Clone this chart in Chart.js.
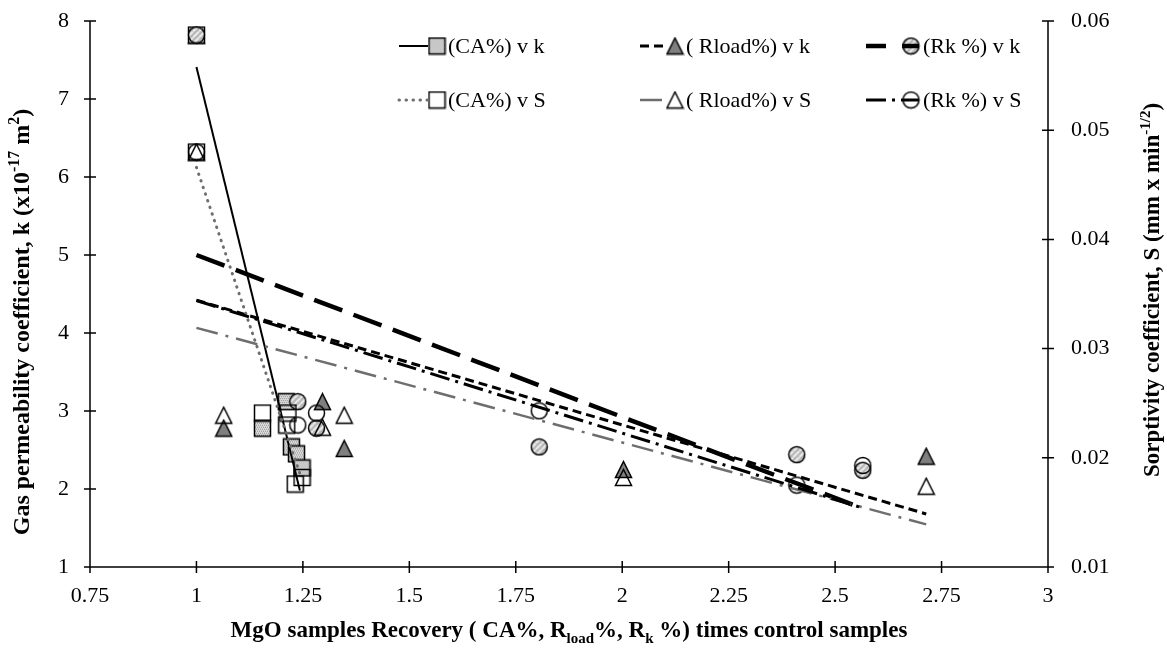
<!DOCTYPE html>
<html>
<head>
<meta charset="utf-8">
<script src="https://cdn.jsdelivr.net/npm/chart.js@4.4.1/dist/chart.umd.min.js"></script>
<style>
  html, body { margin: 0; padding: 0; background: #fff; }
  #wrap { position: relative; width: 1167px; height: 650px; }
</style>
</head>
<body>
<div id="wrap"><canvas id="chart"></canvas></div>
<script>
// recovery ratio (x control) and measured k / S for each group of mixes
const caKX = [1, 1.155, 1.211, 1.223, 1.235, 1.248];
const caK = [7.82, 2.78, 3.12, 2.54, 2.45, 2.27];
const caSX = [1, 1.155, 1.215, 1.212, 1.248, 1.232];
const caS = [0.048, 0.0241, 0.0241, 0.023, 0.0182, 0.0176];

const rloadX = [1, 1.064, 1.296, 1.347, 2.003, 2.714];
const rloadK = [7.82, 2.78, 3.12, 2.52, 2.25, 2.42];
const rloadS = [0.048, 0.0239, 0.0228, 0.0239, 0.0182, 0.0174];

const rkX = [1, 1.238, 1.282, 1.805, 2.41, 2.565];
const rkK = [7.82, 3.12, 2.78, 2.54, 2.44, 2.24];
const rkS = [0.048, 0.023, 0.0241, 0.0243, 0.0175, 0.0193];

// linear trend lines (start / end)
const trendCaKX = [1, 1.243];
const trendCaK = [7.41, 1.98];
const trendRloadKX = [1, 2.714];
const trendRloadK = [4.42, 1.68];
const trendRkKX = [1, 2.565];
const trendRkK = [5.0, 1.75];
const trendCaSX = [1, 1.245];
const trendCaS = [0.0466, 0.0183];
const trendRloadSX = [1, 2.714];
const trendRloadS = [0.0319, 0.0139];
const trendRkSX = [1, 2.565];
const trendRkS = [0.0344, 0.0154];

const xTicks = { min: 0.75, max: 3, step: 0.25 };
const kTicks = { min: 1, max: 8, step: 1 };
const sTicks = { min: 0.01, max: 0.06, step: 0.01 };

const legendLabels = ["(CA%) v k", "( Rload%) v k", "(Rk %) v k", "(CA%) v S", "( Rload%) v S", "(Rk %) v S"];

const FONT = '"Liberation Serif", "Times New Roman", serif';

const pts = (xs, ys) => xs.map((x, i) => ({ x: x, y: ys[i] }));

// fill textures for the markers
function stippleTile() {
  const c = document.createElement("canvas");
  c.width = c.height = 4;
  const g = c.getContext("2d");
  g.fillStyle = "#dcdcdc";
  g.fillRect(0, 0, 4, 4);
  g.fillStyle = "#8a8a8a";
  [[0, 0], [2, 0], [1, 2], [3, 2]].forEach(([x, y]) => g.fillRect(x, y, 1, 1));
  return c;
}

function stripeTile() {
  const c = document.createElement("canvas");
  c.width = c.height = 6;
  const g = c.getContext("2d");
  g.fillStyle = "#b4b4b4";
  g.fillRect(0, 0, 6, 6);
  g.strokeStyle = "#eeeeee";
  g.lineWidth = 2;
  [-6, 0, 6].forEach((o) => {
    g.beginPath();
    g.moveTo(o, 6);
    g.lineTo(o + 6, 0);
    g.stroke();
  });
  return c;
}

function marker(shape, fill) {
  const c = document.createElement("canvas");
  c.width = c.height = 19;
  const g = c.getContext("2d");
  g.beginPath();
  if (shape === "square") g.rect(1.5, 1.5, 16, 16);
  else if (shape === "triangle") {
    g.moveTo(9.5, 1.5);
    g.lineTo(17.5, 17.5);
    g.lineTo(1.5, 17.5);
    g.closePath();
  } else g.arc(9.5, 9.5, 8, 0, Math.PI * 2);
  if (fill === "stipple") g.fillStyle = g.createPattern(stippleTile(), "repeat");
  else if (fill === "stripe") g.fillStyle = g.createPattern(stripeTile(), "repeat");
  else g.fillStyle = fill;
  if (fill) g.fill();
  g.lineWidth = 1.5;
  g.strokeStyle = "#000";
  g.stroke();
  return c;
}

const mk = {
  caK: marker("square", "stipple"),
  rloadK: marker("triangle", "#7f7f7f"),
  rkK: marker("circle", "stripe"),
  caS: marker("square", null),
  rloadS: marker("triangle", null),
  rkS: marker("circle", null),
};

const markerSet = (label, data, img, axis, order) => ({
  label: label,
  data: data,
  yAxisID: axis,
  showLine: false,
  pointStyle: img,
  pointRadius: 9,
  order: order,
});

const trendSet = (data, axis, color, width, dash, order, cap) => ({
  data: data,
  yAxisID: axis,
  showLine: true,
  pointRadius: 0,
  borderColor: color,
  borderWidth: width,
  borderDash: dash,
  borderCapStyle: cap || "butt",
  fill: false,
  order: order,
});

const trends = [
  trendSet(pts(trendCaKX, trendCaK), "y", "#000", 2, [], 5),
  trendSet(pts(trendRloadKX, trendRloadK), "y", "#000", 3, [9, 5], 4),
  trendSet(pts(trendRkKX, trendRkK), "y", "#000", 4.5, [30, 12], 3),
  trendSet(pts(trendCaSX, trendCaS), "y2", "#6e6e6e", 3, [0.5, 6.5], 2, "round"),
  trendSet(pts(trendRloadSX, trendRloadS), "y2", "#6e6e6e", 2.5, [22, 8, 3, 8], 1),
  trendSet(pts(trendRkSX, trendRkS), "y2", "#000", 3, [20, 6, 3, 6], 0),
];

const markerSets = [
  markerSet(legendLabels[0], pts(caKX, caK), mk.caK, "y", 19),
  markerSet(legendLabels[1], pts(rloadX, rloadK), mk.rloadK, "y", 20),
  markerSet(legendLabels[2], pts(rkX, rkK), mk.rkK, "y", 18),
  markerSet(legendLabels[3], pts(caSX, caS), mk.caS, "y2", 17),
  markerSet(legendLabels[4], pts(rloadX, rloadS), mk.rloadS, "y2", 16),
  markerSet(legendLabels[5], pts(rkX, rkS), mk.rkS, "y2", 15),
];

// axis lines with ticks crossing the axis
const axisPlugin = {
  id: "axisLines",
  beforeDatasetsDraw(chart) {
    const { ctx, chartArea: a, scales } = chart;
    ctx.save();
    ctx.strokeStyle = "#000";
    ctx.lineWidth = 1.5;
    ctx.beginPath();
    ctx.moveTo(a.left, a.top);
    ctx.lineTo(a.left, a.bottom);
    ctx.lineTo(a.right, a.bottom);
    ctx.moveTo(a.right, a.top);
    ctx.lineTo(a.right, a.bottom);
    scales.x.ticks.forEach((t) => {
      const p = scales.x.getPixelForValue(t.value);
      ctx.moveTo(p, a.bottom - 6);
      ctx.lineTo(p, a.bottom + 6);
    });
    [["y", a.left], ["y2", a.right]].forEach(([id, edge]) => {
      scales[id].ticks.forEach((t) => {
        const p = scales[id].getPixelForValue(t.value);
        ctx.moveTo(edge - 6, p);
        ctx.lineTo(edge + 6, p);
      });
    });
    ctx.stroke();
    ctx.restore();
  },
};

function richText(ctx, parts, cx, baseY, size) {
  const fontFor = (k) => "bold " + (k ? Math.round(size * 0.66) : size) + "px " + FONT;
  let total = 0;
  parts.forEach(([t, k]) => {
    ctx.font = fontFor(k);
    total += ctx.measureText(t).width;
  });
  let x = cx - total / 2;
  ctx.textBaseline = "alphabetic";
  ctx.textAlign = "left";
  parts.forEach(([t, k]) => {
    ctx.font = fontFor(k);
    const dy = k === "sub" ? size * 0.25 : k === "sup" ? -size * 0.4 : 0;
    ctx.fillText(t, x, baseY + dy);
    x += ctx.measureText(t).width;
  });
}

const titlesPlugin = {
  id: "titles",
  afterDraw(chart) {
    const { ctx, chartArea: a } = chart;
    ctx.save();
    ctx.fillStyle = "#000";
    richText(ctx, [["MgO samples Recovery ( CA%, R", ""], ["load", "sub"], ["%, R", ""], ["k", "sub"], [" %) times control samples", ""]], (a.left + a.right) / 2, 637, 23);
    ctx.save();
    ctx.translate(29, 322);
    ctx.rotate(-Math.PI / 2);
    richText(ctx, [["Gas permeability coefficient, k (x10", ""], ["-17", "sup"], [" m", ""], ["2", "sup"], [")", ""]], 0, 0, 24);
    ctx.restore();
    ctx.save();
    ctx.translate(1159, 290);
    ctx.rotate(-Math.PI / 2);
    richText(ctx, [["Sorptivity coefficient, S (mm x min", ""], ["-1/2", "sup"], [")", ""]], 0, 0, 23);
    ctx.restore();
    ctx.restore();
  },
};

// two-row legend in the top right of the plot
const legendPlugin = {
  id: "keyRows",
  afterDraw(chart) {
    const ctx = chart.ctx;
    const rows = [46, 100];
    const lineFrom = [399, 640, 866];
    const markX = [437, 675, 911];
    const lineTo = [428, 666, 919];
    const textX = [448, 686, 923];
    ctx.save();
    for (let i = 0; i < 6; i++) {
      const r = Math.floor(i / 3), c = i % 3;
      const y = rows[r];
      const tr = trends[i];
      const img = markerSets[i].pointStyle;
      ctx.drawImage(img, markX[c] - 9.5, y - 9.5);
      ctx.beginPath();
      ctx.strokeStyle = tr.borderColor;
      ctx.lineWidth = tr.borderWidth;
      ctx.lineCap = tr.borderCapStyle;
      ctx.setLineDash(c === 2 && r === 0 ? [20, 16, 30] : tr.borderDash);
      ctx.moveTo(lineFrom[c], y);
      ctx.lineTo(lineTo[c], y);
      ctx.stroke();
      ctx.setLineDash([]);
      ctx.fillStyle = "#000";
      ctx.font = "22px " + FONT;
      ctx.textBaseline = "middle";
      ctx.textAlign = "left";
      ctx.fillText(markerSets[i].label, textX[c], y + 1);
    }
    ctx.restore();
  },
};

const tickFont = { family: FONT, size: 22 };
const fmt = (v) => String(+Number(v).toFixed(2));

new Chart(document.getElementById("chart"), {
  type: "scatter",
  data: { datasets: trends.concat(markerSets) },
  options: {
    responsive: true,
    maintainAspectRatio: false,
    animation: false,
    events: [],
    layout: { padding: { top: 21, left: 0, right: 0, bottom: 0 } },
    plugins: { legend: { display: false }, tooltip: { enabled: false } },
    scales: {
      x: {
        type: "linear",
        min: xTicks.min,
        max: xTicks.max,
        ticks: { stepSize: xTicks.step, color: "#000", font: tickFont, padding: 10, callback: fmt, maxRotation: 0 },
        grid: { display: false, drawTicks: true, tickLength: 6 },
        border: { display: false },
        afterFit: (s) => { s.height = 83; s.paddingLeft = 0; s.paddingRight = 0; },
      },
      y: {
        position: "left",
        min: kTicks.min,
        max: kTicks.max,
        ticks: { stepSize: kTicks.step, color: "#000", font: tickFont, padding: 15, callback: fmt },
        grid: { display: false, drawTicks: true, tickLength: 6 },
        border: { display: false },
        afterFit: (s) => { s.width = 90; s.paddingTop = 0; s.paddingBottom = 0; },
      },
      y2: {
        position: "right",
        min: sTicks.min,
        max: sTicks.max,
        ticks: { stepSize: sTicks.step, color: "#000", font: tickFont, padding: 17, callback: fmt },
        grid: { display: false, drawTicks: true, tickLength: 6 },
        border: { display: false },
        afterFit: (s) => { s.width = 119; s.paddingTop = 0; s.paddingBottom = 0; },
      },
    },
  },
  plugins: [axisPlugin, titlesPlugin, legendPlugin],
});
</script>
</body>
</html>
